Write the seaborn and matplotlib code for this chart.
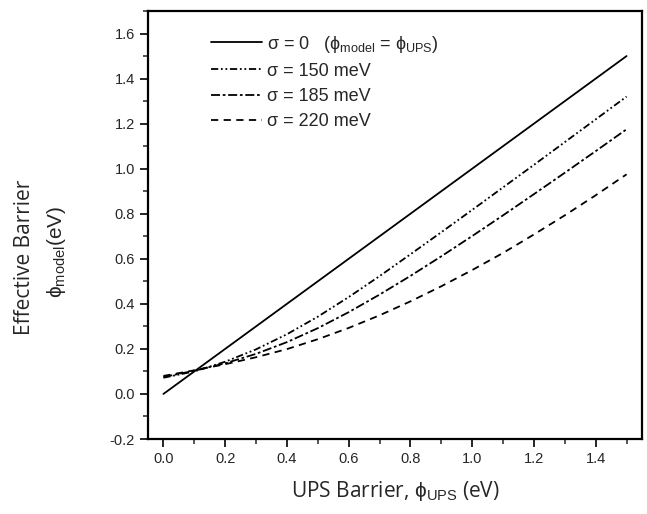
import numpy as np
import pandas as pd
import matplotlib
matplotlib.use("Agg")
import matplotlib.pyplot as plt
import seaborn as sns
from matplotlib.ticker import MultipleLocator

# values
phi_ups = [0.0, 0.1, 0.2, 0.3, 0.4, 0.5, 0.6, 0.7, 0.8, 0.9, 1.0, 1.1, 1.2, 1.3, 1.4, 1.5]
sigma_0 = [0.0, 0.1, 0.2, 0.3, 0.4, 0.5, 0.6, 0.7, 0.8, 0.9, 1.0, 1.1, 1.2, 1.3, 1.4, 1.5]
sigma_150 = [0.072, 0.100, 0.143, 0.198, 0.265, 0.343, 0.430, 0.523, 0.620, 0.718,
             0.817, 0.917, 1.017, 1.118, 1.219, 1.320]
sigma_185 = [0.075, 0.103, 0.136, 0.178, 0.230, 0.292, 0.363, 0.441, 0.524, 0.611,
             0.701, 0.793, 0.887, 0.982, 1.078, 1.175]
sigma_220 = [0.080, 0.105, 0.132, 0.163, 0.199, 0.243, 0.293, 0.349, 0.411, 0.478,
             0.550, 0.626, 0.708, 0.793, 0.882, 0.975]

labels = [
    r"σ = 0   (ϕ$_{\mathrm{model}}$ = ϕ$_{\mathrm{UPS}}$)",
    "σ = 150 meV",
    "σ = 185 meV",
    "σ = 220 meV",
]

rows = []
for lab, ys in zip(labels, [sigma_0, sigma_150, sigma_185, sigma_220]):
    for x, y in zip(phi_ups, ys):
        rows.append({"phi_ups": x, "phi_model": y, "curve": lab})
df = pd.DataFrame(rows)

sns.set_style("ticks")
plt.rcParams["font.family"] = ["Liberation Sans", "DejaVu Sans"]
plt.rcParams["mathtext.fontset"] = "custom"
plt.rcParams["mathtext.rm"] = "Liberation Sans"

fig = plt.figure(figsize=(6.47, 5.14), dpi=100)
ax = fig.add_axes([0.2287, 0.1459, 0.7636, 0.8327])

dash_map = {
    labels[0]: "",
    labels[1]: (4, 1.5, 1, 1.5, 1, 1.5),
    labels[2]: (5, 1.5, 1.5, 1.5),
    labels[3]: (4, 3),
}
sns.lineplot(data=df, x="phi_ups", y="phi_model", style="curve", dashes=dash_map,
             color="black", linewidth=1.3, ax=ax, legend=True)

ax.set_xlim(-0.05, 1.55)
ax.set_ylim(-0.2, 1.70)
ax.xaxis.set_minor_locator(MultipleLocator(0.1))
ax.yaxis.set_minor_locator(MultipleLocator(0.1))
xt = np.arange(0, 1.41, 0.2)
yt = np.arange(-0.2, 1.61, 0.2)
ax.set_xticks(xt)
ax.set_xticklabels([f"{v:.1f}" for v in xt])
ax.set_yticks(yt)
ax.set_yticklabels([f"{v:.1f}" for v in yt])
ax.tick_params(which="major", direction="out", length=6, width=1.4, labelsize=10.5,
               top=False, right=False)
ax.tick_params(which="minor", direction="out", length=3.5, width=1.1,
               top=False, right=False)
for s in ax.spines.values():
    s.set_linewidth(1.6)
    s.set_color("black")

ax.set_xlabel("")
ax.set_ylabel("")

handles, _ = ax.get_legend_handles_labels()
ax.legend(handles[-4:], labels, loc="upper left", bbox_to_anchor=(0.095, 0.985),
          frameon=False, fontsize=13, handlelength=2.8, handletextpad=0.3,
          labelspacing=0.45)

fig.text(0.611, 0.045, r"UPS Barrier, $\mathrm{ϕ}_{\mathrm{UPS}}$ (eV)", ha="center",
         va="center", fontsize=15, family=["Open Sans", "DejaVu Sans"],
         fontweight="medium")
fig.text(0.038, 0.50, "Effective Barrier", rotation=90, ha="center", va="center",
         fontsize=15, family=["Open Sans", "DejaVu Sans"], fontweight="medium")
fig.text(0.087, 0.51, r"ϕ$_{\mathrm{model}}$(eV)", rotation=90, ha="center", va="center",
         fontsize=15)

fig.savefig("out.png", dpi=100)
